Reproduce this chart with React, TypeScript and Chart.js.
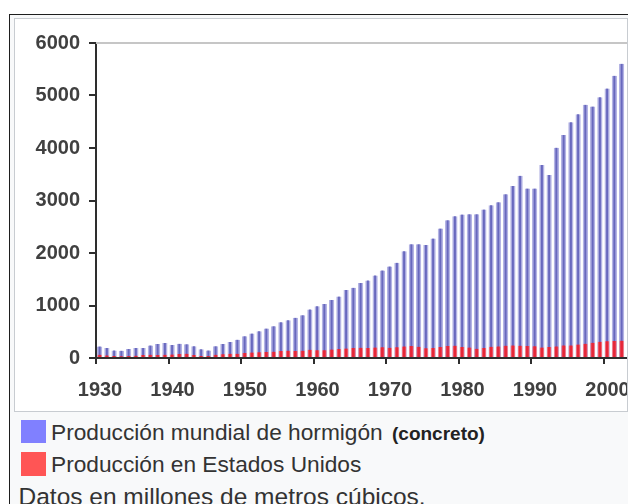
import React, { useEffect, useRef } from "react";
import { Chart, registerables } from "chart.js";

Chart.register(...registerables);

const YEARS = [
  1930, 1931, 1932, 1933, 1934, 1935, 1936, 1937, 1938, 1939,
  1940, 1941, 1942, 1943, 1944, 1945, 1946, 1947, 1948, 1949,
  1950, 1951, 1952, 1953, 1954, 1955, 1956, 1957, 1958, 1959,
  1960, 1961, 1962, 1963, 1964, 1965, 1966, 1967, 1968, 1969,
  1970, 1971, 1972, 1973, 1974, 1975, 1976, 1977, 1978, 1979,
  1980, 1981, 1982, 1983, 1984, 1985, 1986, 1987, 1988, 1989,
  1990, 1991, 1992, 1993, 1994, 1995, 1996, 1997, 1998, 1999,
  2000, 2001, 2002,
];

const WORLD = [
  220, 190, 145, 140, 172, 190, 190, 240, 265, 285,
  250, 270, 260, 222, 165, 145, 222, 267, 306, 350,
  414, 465, 510, 560, 605, 680, 720, 765, 815, 925,
  987, 1030, 1105, 1170, 1295, 1338, 1427, 1478, 1573, 1669,
  1745, 1815, 2032, 2166, 2166, 2153, 2274, 2465, 2624, 2701,
  2732, 2739, 2739, 2828, 2911, 2968, 3121, 3274, 3471, 3229,
  3229, 3675, 3484, 4006, 4248, 4490, 4643, 4822, 4790, 4968,
  5134, 5376, 5605,
];

const USA = [
  60, 50, 40, 35, 40, 45, 55, 60, 55, 60,
  65, 75, 80, 55, 40, 40, 60, 70, 80, 80,
  95, 105, 110, 115, 120, 135, 140, 135, 140, 155,
  150, 150, 160, 170, 180, 190, 195, 190, 200, 205,
  195, 205, 220, 230, 215, 185, 190, 210, 230, 235,
  210, 200, 175, 190, 215, 220, 235, 240, 235, 230,
  225, 200, 210, 220, 240, 240, 255, 270, 290, 310,
  320, 325, 330,
];

const X_TICKS = [1930, 1940, 1950, 1960, 1970, 1980, 1990, 2000];
const Y_TICKS = [0, 1000, 2000, 3000, 4000, 5000, 6000];
const X_MIN = 1930;
const X_MAX = 2004;
const Y_MAX = 6000;

const LEGEND_WORLD = "Producción mundial de hormigón";
const LEGEND_WORLD_NOTE = "(concreto)";
const LEGEND_USA = "Producción en Estados Unidos";
const FOOTNOTE = "Datos en millones de metros cúbicos.";

const FONT = "'Liberation Sans', Arial, Helvetica, sans-serif";

const topLine = {
  id: "topLine",
  beforeDatasetsDraw(chart: any) {
    const { ctx, chartArea } = chart;
    ctx.save();
    ctx.strokeStyle = "#c6c6c6";
    ctx.lineWidth = 2;
    ctx.beginPath();
    ctx.moveTo(chartArea.left, chartArea.top);
    ctx.lineTo(chart.width, chartArea.top);
    ctx.stroke();
    ctx.restore();
  },
};

export default function App() {
  const ref = useRef<HTMLCanvasElement | null>(null);

  useEffect(() => {
    if (!ref.current) return;
    const tickFont = { family: FONT, size: 20, weight: "bold" as const };
    const chart = new Chart(ref.current, {
      type: "bar",
      data: {
        datasets: [
          {
            label: LEGEND_WORLD,
            data: YEARS.map((y, i) => ({ x: y + 0.5, y: WORLD[i] })),
            backgroundColor: "#6868be",
            borderColor: "#b4b4e4",
            borderWidth: { left: 1.6, right: 1.6, top: 0, bottom: 0 },
            borderSkipped: false,
            barThickness: 4.6,
            grouped: false,
            order: 1,
          },
          {
            label: LEGEND_USA,
            data: YEARS.map((y, i) => ({ x: y + 0.5, y: USA[i] })),
            backgroundColor: "#e62638",
            borderColor: "#f07a86",
            borderWidth: { left: 1, right: 1, top: 0, bottom: 0 },
            borderSkipped: false,
            barThickness: 4,
            grouped: false,
            order: 0,
          },
        ],
      },
      options: {
        animation: false,
        responsive: false,
        maintainAspectRatio: false,
        events: [],
        layout: { padding: { left: 0, top: 24, right: 12.5, bottom: 0 } },
        plugins: {
          legend: { display: false },
          tooltip: { enabled: false },
          title: { display: false },
        },
        scales: {
          x: {
            type: "linear",
            min: X_MIN,
            max: X_MAX,
            offset: false,
            afterBuildTicks: (s: any) => {
              s.ticks = X_TICKS.map((v) => ({ value: v }));
            },
            afterFit: (s: any) => {
              s.height = 53;
            },
            border: { display: true, color: "#2e2e2e", width: 2 },
            grid: {
              drawOnChartArea: false,
              drawTicks: true,
              tickLength: 6,
              color: "#2e2e2e",
              lineWidth: 2,
              offset: false,
            },
            ticks: {
              font: tickFont,
              color: "#404040",
              padding: 14,
              labelOffset: 4,
              maxRotation: 0,
              autoSkip: false,
              callback: (v: any) => String(v),
            },
          },
          y: {
            min: 0,
            max: Y_MAX,
            afterBuildTicks: (s: any) => {
              s.ticks = Y_TICKS.map((v) => ({ value: v }));
            },
            afterFit: (s: any) => {
              s.width = 81;
            },
            border: { display: true, color: "#2e2e2e", width: 2 },
            grid: {
              drawOnChartArea: false,
              drawTicks: true,
              tickLength: 7,
              color: "#2e2e2e",
              lineWidth: 2,
            },
            ticks: {
              font: tickFont,
              color: "#404040",
              padding: 9,
              callback: (v: any) => String(v),
            },
          },
        },
      },
      plugins: [topLine],
    });
    return () => chart.destroy();
  }, []);

  const legendText: React.CSSProperties = {
    position: "absolute",
    left: 51,
    fontFamily: FONT,
    fontSize: 22.7,
    lineHeight: "24px",
    color: "#333",
    whiteSpace: "nowrap",
  };

  return (
    <div
      style={{
        position: "fixed",
        left: 0,
        top: 0,
        width: 628,
        height: 504,
        overflow: "hidden",
        background: "#ffffff",
      }}
    >
      <div
        style={{
          position: "absolute",
          left: 9,
          top: 14,
          width: 700,
          height: 600,
          borderLeft: "1px solid #1e1e1e",
          borderTop: "1px solid #1e1e1e",
          background: "#f8f9fa",
        }}
      />
      <div
        style={{
          position: "absolute",
          left: 14,
          top: 18,
          width: 612,
          height: 392,
          background: "#ffffff",
          border: "1px solid #c8ccd1",
          overflow: "hidden",
        }}
      >
        <canvas
          ref={ref}
          width={630}
          height={392}
          style={{ display: "block", width: 630, height: 392 }}
        />
      </div>
      <div
        style={{
          position: "absolute",
          left: 21,
          top: 420,
          width: 25,
          height: 23,
          background: "#8080ff",
        }}
      />
      <div style={{ ...legendText, top: 420 }}>
        {LEGEND_WORLD}{" "}
        <span style={{ fontWeight: "bold", fontSize: 19, color: "#222", marginLeft: 3 }}>
          {LEGEND_WORLD_NOTE}
        </span>
      </div>
      <div
        style={{
          position: "absolute",
          left: 21,
          top: 452,
          width: 25,
          height: 24,
          background: "#ff5555",
        }}
      />
      <div style={{ ...legendText, top: 452 }}>{LEGEND_USA}</div>
      <div
        style={{
          position: "absolute",
          left: 18.5,
          top: 484,
          fontFamily: FONT,
          fontSize: 24.5,
          lineHeight: "26px",
          color: "#333",
          whiteSpace: "nowrap",
        }}
      >
        {FOOTNOTE}
      </div>
    </div>
  );
}
